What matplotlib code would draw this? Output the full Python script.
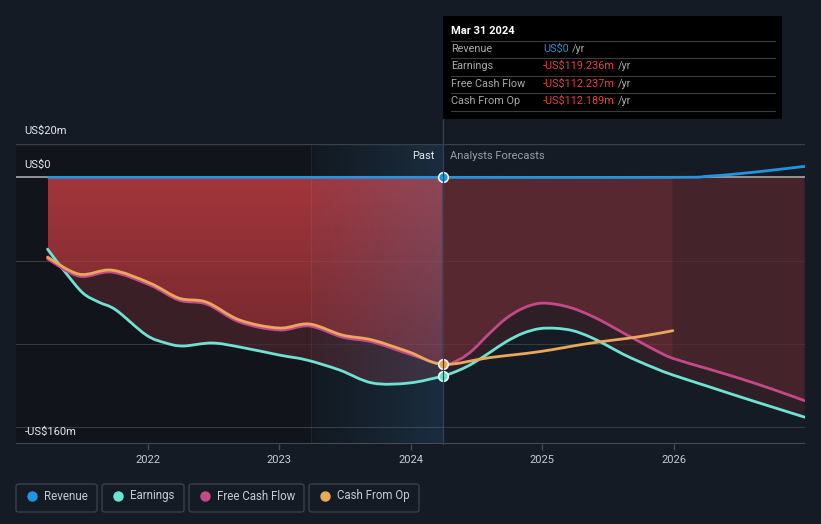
import numpy as np
import matplotlib.pyplot as plt
from matplotlib.patches import Rectangle, FancyBboxPatch, PathPatch
from matplotlib.path import Path
from matplotlib.colors import LinearSegmentedColormap
from matplotlib.lines import Line2D

plt.rcParams['font.family'] = ['Roboto', 'DejaVu Sans']

# ---- data (US$m, x in fractional years) ----
rev_x = [2021.24, 2024.245, 2025.995, 2026.25, 2026.5, 2026.75, 2027.0]
rev_y = [0, 0, 0, 0.6, 2.2, 4.3, 6.6]

earn_past_x = [2021.24, 2021.38, 2021.51, 2021.63, 2021.76, 2021.99, 2022.14, 2022.27,
               2022.49, 2022.70, 2023.00, 2023.21, 2023.46, 2023.71, 2023.99, 2024.245]
earn_past_y = [-43.1, -57.5, -69.5, -74.9, -79.6, -94.6, -99.4, -101.2,
               -99.4, -101.8, -106.6, -109.6, -115.6, -123.4, -123.4, -119.2]

cfo_past_x = [2021.24, 2021.48, 2021.73, 2022.02, 2022.24, 2022.45, 2022.70,
              2023.00, 2023.23, 2023.48, 2023.71, 2023.99, 2024.245]
cfo_past_y = [-47.9, -58.1, -55.7, -63.5, -72.5, -74.9, -85.6,
              -90.4, -88.0, -94.6, -97.6, -104.8, -112.2]
fcf_past_y = [-48.9, -59.3, -56.9, -64.7, -73.7, -76.1, -86.8,
              -91.6, -89.2, -95.8, -98.8, -106.0, -112.2]

fc_x = [2024.245, 2024.373, 2024.474, 2024.601, 2024.728, 2024.854, 2024.981, 2025.108,
        2025.234, 2025.361, 2025.488, 2025.614, 2025.741, 2025.868, 2025.995,
        2026.249, 2026.502, 2026.755, 2026.997]
fcf_fc_y = [-112.2, -109.2, -103.6, -93.6, -84.6, -78.6, -75.6, -76.2,
            -78.6, -82.6, -87.6, -93.2, -98.6, -104.0, -108.6,
            -114.6, -120.6, -127.2, -134.0]
earn_fc_y = [-119.2, -115.6, -111.6, -105.2, -98.6, -93.6, -90.8, -90.6,
             -92.0, -95.6, -100.6, -106.0, -110.6, -114.8, -118.6,
             -125.1, -131.6, -137.9, -143.9]

cfo_fc_x = [2024.245, 2024.60, 2024.98, 2025.36, 2025.74, 2025.995]
cfo_fc_y = [-112.2, -108.2, -104.6, -99.6, -95.6, -92.0]

legend_labels = ['Revenue', 'Earnings', 'Free Cash Flow', 'Cash From Op']
tip_labels = ['Revenue', 'Earnings', 'Free Cash Flow', 'Cash From Op']
tip_values = ['US$0', '-US$119.236m', '-US$112.237m', '-US$112.189m']

BG = '#151b24'
REV = '#2394df'
EARN = '#6fe3d3'
FCF = '#c4498a'
CFO = '#e8a95b'

W, H = 821, 524
NOW = 2024.245
SPLIT = 2025.995


def bez(xs, ys):
    # catmull-rom segments as cubic bezier control points (drawn by Path)
    P = np.column_stack([xs, ys]).astype(float)
    n = len(P)
    verts = []
    for i in range(n - 1):
        p0, p1, p2, p3 = P[max(i - 1, 0)], P[i], P[i + 1], P[min(i + 2, n - 1)]
        verts += [p1 + (p2 - p0) / 6, p2 - (p3 - p1) / 6, p2]
    return verts


def line_path(xs, ys):
    v = [(xs[0], ys[0])] + bez(xs, ys)
    return Path(v, [Path.MOVETO] + [Path.CURVE4] * (len(v) - 1))


def area_path(xa, ya, xb, yb):
    # region between curve a (forward) and curve b (backward)
    v = [(xa[0], ya[0])] + bez(xa, ya) + [(xb[-1], yb[-1])] + bez(xb[::-1], yb[::-1])
    codes = [Path.MOVETO] + [Path.CURVE4] * (3 * (len(xa) - 1)) + [Path.LINETO] \
        + [Path.CURVE4] * (3 * (len(xb) - 1))
    v.append(v[0])
    codes.append(Path.CLOSEPOLY)
    return Path(v, codes)


fig = plt.figure(figsize=(W / 100, H / 100), dpi=100, facecolor=BG)
ax = fig.add_axes([16 / W, 1 - 444 / H, (805 - 16) / W, 300 / H])
ax.set_facecolor(BG)
ax.set_xlim(2021.0, 2027.0)
ax.set_ylim(-160, 20)

# past background
ax.axvspan(2021.0, NOW, color='#11151b', zorder=0, lw=0)

# grid under the fills
for v in [-50, -100, -150]:
    ax.axhline(v, color='#2c3139', lw=0.8, zorder=0.5)

# past fills
zero_past = [cfo_past_x[0], cfo_past_x[-1]]
poly = PathPatch(area_path(cfo_past_x, cfo_past_y, zero_past, [0, 0]),
                 facecolor='none', edgecolor='none')
ax.add_patch(poly)
red = LinearSegmentedColormap.from_list('red', ['#6e272d', '#a3363c'])
img = ax.imshow(np.linspace(0, 1, 256).reshape(-1, 1), extent=(2021.24, NOW, -115, 0),
                origin='lower', cmap=red, aspect='auto', zorder=1)
img.set_clip_path(poly)
ax.add_patch(PathPatch(area_path(cfo_past_x, cfo_past_y, earn_past_x, earn_past_y),
                       facecolor='#3a1f26', lw=0, zorder=1))

# forecast fills
i = fc_x.index(SPLIT)
ax.add_patch(PathPatch(area_path(fc_x[:i + 1], fcf_fc_y[:i + 1], [NOW, SPLIT], [0, 0]),
                       facecolor='#582830', lw=0, zorder=1))
ax.add_patch(PathPatch(area_path(fc_x[i:], fcf_fc_y[i:], [SPLIT, fc_x[-1]], [0, 0]),
                       facecolor='#45232a', lw=0, zorder=1))
ax.add_patch(PathPatch(area_path(fc_x, fcf_fc_y, fc_x, earn_fc_y),
                       facecolor='#2e1f27', lw=0, zorder=1))

# faint grid over the fills
for v in [-50, -100, -150]:
    ax.axhline(v, color='white', alpha=0.05, lw=0.8, zorder=1.5)

# highlighted last year (blue gradient)
grad = np.zeros((1, 256, 4))
grad[..., 0], grad[..., 1], grad[..., 2] = 61 / 255, 143 / 255, 208 / 255
grad[..., 3] = np.linspace(0.03, 0.2, 256)
ax.imshow(grad, extent=(2023.24, NOW, -160, 20), aspect='auto', zorder=2)
ax.axvline(2023.24, color='white', alpha=0.06, lw=0.8, zorder=2)

ax.axhline(20, color='#3a3f48', lw=1, zorder=2)
ax.axhline(-160, color='#454a53', lw=1.5, zorder=2)
ax.axhline(0, color='#a8a8ac', lw=1.2, zorder=3)

# lines
lw = 2.0
series = [
    (earn_past_x + fc_x[1:], earn_past_y + earn_fc_y[1:], EARN, 4),
    (cfo_past_x + fc_x[1:], fcf_past_y + fcf_fc_y[1:], FCF, 4),
    (cfo_past_x + cfo_fc_x[1:], cfo_past_y + cfo_fc_y[1:], CFO, 5),
]
for xs, ys, c, z in series:
    ax.add_patch(PathPatch(line_path(xs, ys), facecolor='none', edgecolor=c, lw=lw,
                           zorder=z, capstyle='round', joinstyle='round'))
ax.add_patch(PathPatch(line_path(rev_x, rev_y), facecolor='none', edgecolor=REV, lw=lw,
                       zorder=5))

ax.plot(NOW, 0, 'o', ms=7, mfc=REV, mec='white', mew=1.1, zorder=7)
ax.plot(NOW, cfo_past_y[-1], 'o', ms=7, mfc=CFO, mec='white', mew=1.1, zorder=7)
ax.plot(NOW, earn_past_y[-1], 'o', ms=7, mfc=EARN, mec='white', mew=1.1, zorder=7)

# axes styling
for s in ax.spines.values():
    s.set_visible(False)
ax.set_yticks([])
ax.set_xticks([2022, 2023, 2024, 2025, 2026])
ax.set_xticklabels(['2022', '2023', '2024', '2025', '2026'])
ax.tick_params(axis='x', colors='#454a53', labelcolor='#c8ccd2', labelsize=8,
               length=4, width=1, pad=4)

# y labels
ax.text(2021.065, 27.8, 'US$20m', color='#e6e8eb', fontsize=8, va='center', clip_on=False)
ax.text(2021.065, 7.2, 'US$0', color='#e6e8eb', fontsize=8, va='center', clip_on=False)
ax.text(2021.065, -152.8, '-US$160m', color='#e6e8eb', fontsize=8, va='center', clip_on=False)
ax.text(2024.18, 12.6, 'Past', color='#e6e8eb', fontsize=8, va='center', ha='right')
ax.text(2024.30, 12.6, 'Analysts Forecasts', color='#9a9ea5', fontsize=8, va='center')


def fx(px):
    return px / W


def fy(py):
    return 1 - py / H


# divider between past and forecast
fig.add_artist(Line2D([fx(443), fx(443)], [fy(119), fy(444)], color='#2f4257', lw=0.9))

# tooltip
fig.add_artist(Rectangle((fx(443), fy(119)), (782 - 443) / W, 103 / H,
                         facecolor='black', edgecolor='none'))
fig.text(fx(451), fy(31), 'Mar 31 2024', color='white', fontsize=8, va='center',
         fontweight='bold')
rows_y = [49, 66, 84, 101]
for py in [41, 58, 76, 93, 111]:
    fig.add_artist(Line2D([fx(451), fx(775)], [fy(py), fy(py)], color='#3c3c3c', lw=0.8))
fig.canvas.draw()
for lab, val, py in zip(tip_labels, tip_values, rows_y):
    fig.text(fx(451), fy(py), lab, color='#a9a9a9', fontsize=7.8, va='center')
    col = REV if lab == 'Revenue' else '#e8413a'
    t = fig.text(fx(543), fy(py), val, color=col, fontsize=7.8, va='center')
    bb = t.get_window_extent(renderer=fig.canvas.get_renderer())
    fig.text(bb.x1 / W + 3 / W, fy(py), '/yr', color='#a9a9a9', fontsize=7.8, va='center')

# legend
boxes = [(16, 97), (102, 184), (189, 304), (309, 419)]
colors = [REV, EARN, FCF, CFO]
for (x0, x1), lab, c in zip(boxes, legend_labels, colors):
    fig.add_artist(FancyBboxPatch((fx(x0), fy(512)), (x1 - x0) / W, 28 / H,
                                  boxstyle='round,pad=0,rounding_size=0.004',
                                  facecolor='none', edgecolor='#3a3f4a', lw=1))
    fig.add_artist(Line2D([fx(x0 + 16)], [fy(496)], marker='o', ms=6.5, color=c, lw=0))
    fig.text(fx(x0 + 28), fy(496), lab, color='#c8ccd2', fontsize=8.3, va='center')

fig.savefig('out.png', dpi=100, facecolor=BG)
